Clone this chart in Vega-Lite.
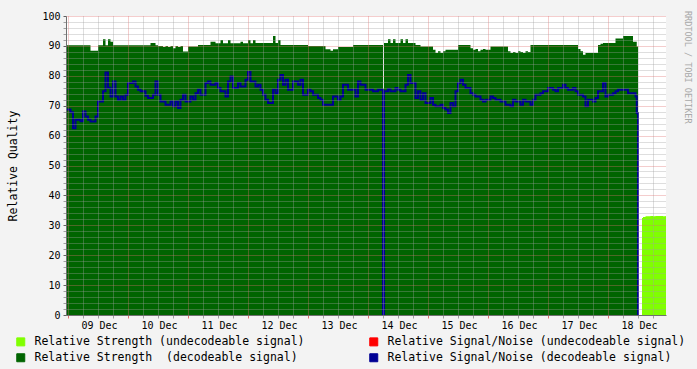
{
"$schema": "https://vega.github.io/schema/vega-lite/v6.json",
"width": 600, "height": 299,
"autosize": "none",
"padding": {"left": 66, "top": 16, "right": 31, "bottom": 54},
"background": "#f3f3f3",
"title": {"text": "RRDTOOL / TOBI OETIKER", "orient": "right", "anchor": "start", "fontSize": 8.5, "font": "DejaVu Sans Mono", "fontWeight": "normal", "color": "#a8a8a8", "offset": -3},
"config": {"view": {"stroke": null, "fill": "white"}, "font": "DejaVu Sans Mono"},
"data": {"values": [
{"t":"2008-12-08 23:36","s":90.2,"n":68.7},
{"t":"2008-12-09 00:00","s":90.2,"n":68.7},{"t":"2008-12-09 01:00","s":90.2,"n":67.8},{"t":"2008-12-09 02:00","s":90.2,"n":62.5},{"t":"2008-12-09 03:00","s":90.2,"n":65.3},{"t":"2008-12-09 04:00","s":90.2,"n":65.3},{"t":"2008-12-09 05:00","s":90.2,"n":64.8},{"t":"2008-12-09 06:00","s":90.2,"n":68.1},{"t":"2008-12-09 07:00","s":90.2,"n":66.4},{"t":"2008-12-09 08:00","s":90.2,"n":65.3},{"t":"2008-12-09 09:00","s":88.4,"n":64.7},{"t":"2008-12-09 10:00","s":88.4,"n":64.7},{"t":"2008-12-09 11:00","s":88.4,"n":66.4},{"t":"2008-12-09 12:00","s":90.2,"n":71.4},{"t":"2008-12-09 13:00","s":90.2,"n":71.4},{"t":"2008-12-09 14:00","s":92.2,"n":74.8},{"t":"2008-12-09 15:00","s":90.2,"n":81.1},{"t":"2008-12-09 16:00","s":92.2,"n":76},{"t":"2008-12-09 17:00","s":91.4,"n":73.1},{"t":"2008-12-09 18:00","s":90.2,"n":78.1},{"t":"2008-12-09 19:00","s":90.2,"n":73.1},{"t":"2008-12-09 20:00","s":90.2,"n":72},{"t":"2008-12-09 21:00","s":90.2,"n":73.1},{"t":"2008-12-09 22:00","s":90.2,"n":72},{"t":"2008-12-09 23:00","s":90.2,"n":73.7},
{"t":"2008-12-10 00:00","s":90.2,"n":77.6},{"t":"2008-12-10 01:00","s":90.2,"n":77.6},{"t":"2008-12-10 02:00","s":90.2,"n":78.1},{"t":"2008-12-10 03:00","s":90.2,"n":76.4},{"t":"2008-12-10 04:00","s":90.2,"n":75.3},{"t":"2008-12-10 05:00","s":90.2,"n":74.8},{"t":"2008-12-10 06:00","s":90.2,"n":74.8},{"t":"2008-12-10 07:00","s":90.2,"n":73.3},{"t":"2008-12-10 08:00","s":90.2,"n":72.6},{"t":"2008-12-10 09:00","s":91,"n":72.6},{"t":"2008-12-10 10:00","s":91,"n":73.7},{"t":"2008-12-10 11:00","s":90.2,"n":78.1},{"t":"2008-12-10 12:00","s":90,"n":73.7},{"t":"2008-12-10 13:00","s":90,"n":71.4},{"t":"2008-12-10 14:00","s":89.6,"n":71.4},{"t":"2008-12-10 15:00","s":90,"n":70.3},{"t":"2008-12-10 16:00","s":89.6,"n":70.3},{"t":"2008-12-10 17:00","s":90,"n":71.4},{"t":"2008-12-10 18:00","s":89.2,"n":69.8},{"t":"2008-12-10 19:00","s":90,"n":71.4},{"t":"2008-12-10 20:00","s":89.6,"n":69.2},{"t":"2008-12-10 21:00","s":90,"n":72},{"t":"2008-12-10 22:00","s":88.1,"n":73.7},{"t":"2008-12-10 23:00","s":88.1,"n":71.4},
{"t":"2008-12-11 00:00","s":89.8,"n":71.4},{"t":"2008-12-11 01:00","s":89.8,"n":73.1},{"t":"2008-12-11 02:00","s":89.8,"n":72},{"t":"2008-12-11 03:00","s":89.8,"n":74.2},{"t":"2008-12-11 04:00","s":90.3,"n":75.3},{"t":"2008-12-11 05:00","s":90.3,"n":73.7},{"t":"2008-12-11 06:00","s":90.3,"n":73.7},{"t":"2008-12-11 07:00","s":90.3,"n":77.6},{"t":"2008-12-11 08:00","s":90.3,"n":78.1},{"t":"2008-12-11 09:00","s":91.4,"n":77},{"t":"2008-12-11 10:00","s":91.4,"n":77},{"t":"2008-12-11 11:00","s":90.9,"n":77.6},{"t":"2008-12-11 12:00","s":90.9,"n":75.9},{"t":"2008-12-11 13:00","s":92,"n":74.8},{"t":"2008-12-11 14:00","s":90.9,"n":74.8},{"t":"2008-12-11 15:00","s":90.9,"n":73.1},{"t":"2008-12-11 16:00","s":92,"n":78.1},{"t":"2008-12-11 17:00","s":90.9,"n":79.8},{"t":"2008-12-11 18:00","s":90.9,"n":75.9},{"t":"2008-12-11 19:00","s":90.9,"n":75.9},{"t":"2008-12-11 20:00","s":90.9,"n":77.6},{"t":"2008-12-11 21:00","s":91.4,"n":76.4},{"t":"2008-12-11 22:00","s":90.9,"n":76.4},{"t":"2008-12-11 23:00","s":90.9,"n":78.7},
{"t":"2008-12-12 00:00","s":92,"n":81.3},{"t":"2008-12-12 01:00","s":90.9,"n":78.1},{"t":"2008-12-12 02:00","s":92,"n":78.1},{"t":"2008-12-12 03:00","s":91,"n":76.4},{"t":"2008-12-12 04:00","s":91,"n":77},{"t":"2008-12-12 05:00","s":91,"n":75.3},{"t":"2008-12-12 06:00","s":91,"n":73.7},{"t":"2008-12-12 07:00","s":91,"n":72},{"t":"2008-12-12 08:00","s":91,"n":70.9},{"t":"2008-12-12 09:00","s":91,"n":70.9},{"t":"2008-12-12 10:00","s":93.3,"n":75.3},{"t":"2008-12-12 11:00","s":91,"n":74.2},{"t":"2008-12-12 12:00","s":92,"n":78.7},{"t":"2008-12-12 13:00","s":90.3,"n":80.3},{"t":"2008-12-12 14:00","s":90.3,"n":77},{"t":"2008-12-12 15:00","s":90.3,"n":78.7},{"t":"2008-12-12 16:00","s":90.3,"n":75.3},{"t":"2008-12-12 17:00","s":90.3,"n":75.3},{"t":"2008-12-12 18:00","s":90.3,"n":78.1},{"t":"2008-12-12 19:00","s":90.3,"n":78.1},{"t":"2008-12-12 20:00","s":90.3,"n":77},{"t":"2008-12-12 21:00","s":90.3,"n":78.7},{"t":"2008-12-12 22:00","s":90.3,"n":73.7},{"t":"2008-12-12 23:00","s":90.3,"n":73.7},
{"t":"2008-12-13 00:00","s":90,"n":75.3},{"t":"2008-12-13 01:00","s":90,"n":74.8},{"t":"2008-12-13 02:00","s":90,"n":73.7},{"t":"2008-12-13 03:00","s":90,"n":73.7},{"t":"2008-12-13 04:00","s":90,"n":72.6},{"t":"2008-12-13 05:00","s":90,"n":72},{"t":"2008-12-13 06:00","s":90,"n":70.3},{"t":"2008-12-13 07:00","s":88.9,"n":70.3},{"t":"2008-12-13 08:00","s":88.9,"n":70.3},{"t":"2008-12-13 09:00","s":88.4,"n":70.3},{"t":"2008-12-13 10:00","s":88.9,"n":73.1},{"t":"2008-12-13 11:00","s":88.9,"n":73.1},{"t":"2008-12-13 12:00","s":89.6,"n":72},{"t":"2008-12-13 13:00","s":89.6,"n":73.1},{"t":"2008-12-13 14:00","s":89.6,"n":77},{"t":"2008-12-13 15:00","s":89.6,"n":77},{"t":"2008-12-13 16:00","s":89.6,"n":75.3},{"t":"2008-12-13 17:00","s":89.6,"n":75.3},{"t":"2008-12-13 18:00","s":90.3,"n":75.3},{"t":"2008-12-13 19:00","s":90.3,"n":73.1},{"t":"2008-12-13 20:00","s":90.3,"n":78.1},{"t":"2008-12-13 21:00","s":90.3,"n":77},{"t":"2008-12-13 22:00","s":90.3,"n":77},{"t":"2008-12-13 23:00","s":90.3,"n":75.3},
{"t":"2008-12-14 00:00","s":90.3,"n":75.3},{"t":"2008-12-14 01:00","s":90.3,"n":75.3},{"t":"2008-12-14 02:00","s":90.3,"n":74.8},{"t":"2008-12-14 03:00","s":90.3,"n":74.8},{"t":"2008-12-14 04:00","s":90.3,"n":75.3},{"t":"2008-12-14 05:00","s":90.3,"n":75.3},{"t":"2008-12-14 06:00","s":0,"n":0},{"t":"2008-12-14 06:24","s":91,"n":74.8},{"t":"2008-12-14 07:00","s":91,"n":74.8},{"t":"2008-12-14 08:00","s":92.2,"n":75.5},{"t":"2008-12-14 09:00","s":91,"n":74.8},{"t":"2008-12-14 10:00","s":92.2,"n":74.8},{"t":"2008-12-14 11:00","s":91,"n":75.9},{"t":"2008-12-14 12:00","s":91,"n":75.3},{"t":"2008-12-14 13:00","s":92.2,"n":74.8},{"t":"2008-12-14 14:00","s":91,"n":74.8},{"t":"2008-12-14 15:00","s":92.2,"n":77},{"t":"2008-12-14 16:00","s":91,"n":80.3},{"t":"2008-12-14 17:00","s":91,"n":77.6},{"t":"2008-12-14 18:00","s":91,"n":77.6},{"t":"2008-12-14 19:00","s":90.3,"n":72.6},{"t":"2008-12-14 20:00","s":90.3,"n":74.8},{"t":"2008-12-14 21:00","s":89.8,"n":72},{"t":"2008-12-14 22:00","s":89.8,"n":74.2},{"t":"2008-12-14 23:00","s":89.8,"n":70.9},
{"t":"2008-12-15 00:00","s":89.8,"n":70.9},{"t":"2008-12-15 01:00","s":89.8,"n":72.6},{"t":"2008-12-15 02:00","s":88.7,"n":70.3},{"t":"2008-12-15 03:00","s":87.6,"n":69.8},{"t":"2008-12-15 04:00","s":88.2,"n":69.8},{"t":"2008-12-15 05:00","s":87.6,"n":70.3},{"t":"2008-12-15 06:00","s":88.2,"n":69.2},{"t":"2008-12-15 07:00","s":88.7,"n":68.7},{"t":"2008-12-15 08:00","s":88.7,"n":67.6},{"t":"2008-12-15 09:00","s":88.7,"n":70.9},{"t":"2008-12-15 10:00","s":88.7,"n":69.8},{"t":"2008-12-15 11:00","s":88.7,"n":74.8},{"t":"2008-12-15 12:00","s":90.3,"n":77.6},{"t":"2008-12-15 13:00","s":90.3,"n":78.7},{"t":"2008-12-15 14:00","s":90.3,"n":77},{"t":"2008-12-15 15:00","s":90.3,"n":75.9},{"t":"2008-12-15 16:00","s":90.3,"n":75.9},{"t":"2008-12-15 17:00","s":89.2,"n":74.2},{"t":"2008-12-15 18:00","s":88.7,"n":73.7},{"t":"2008-12-15 19:00","s":89,"n":73.1},{"t":"2008-12-15 20:00","s":88.2,"n":73.1},{"t":"2008-12-15 21:00","s":88.7,"n":72},{"t":"2008-12-15 22:00","s":89,"n":71.4},{"t":"2008-12-15 23:00","s":88.7,"n":72},
{"t":"2008-12-16 00:00","s":88.7,"n":72},{"t":"2008-12-16 01:00","s":89.8,"n":73.1},{"t":"2008-12-16 02:00","s":89.8,"n":72.6},{"t":"2008-12-16 03:00","s":89.8,"n":72},{"t":"2008-12-16 04:00","s":89.8,"n":72},{"t":"2008-12-16 05:00","s":89.8,"n":71.4},{"t":"2008-12-16 06:00","s":89.8,"n":71.4},{"t":"2008-12-16 07:00","s":89.8,"n":70.3},{"t":"2008-12-16 08:00","s":88.2,"n":70.3},{"t":"2008-12-16 09:00","s":87.6,"n":69.8},{"t":"2008-12-16 10:00","s":88,"n":72},{"t":"2008-12-16 11:00","s":87.6,"n":71.4},{"t":"2008-12-16 12:00","s":88.2,"n":71.4},{"t":"2008-12-16 13:00","s":88,"n":70.3},{"t":"2008-12-16 14:00","s":87.6,"n":72},{"t":"2008-12-16 15:00","s":88.2,"n":71.4},{"t":"2008-12-16 16:00","s":88,"n":71.4},{"t":"2008-12-16 17:00","s":90.3,"n":70.3},{"t":"2008-12-16 18:00","s":90.3,"n":72},{"t":"2008-12-16 19:00","s":90.3,"n":73.7},{"t":"2008-12-16 20:00","s":90.3,"n":73.7},{"t":"2008-12-16 21:00","s":90.3,"n":74.2},{"t":"2008-12-16 22:00","s":90.3,"n":74.8},{"t":"2008-12-16 23:00","s":90.3,"n":74.8},
{"t":"2008-12-17 00:00","s":90.3,"n":75.9},{"t":"2008-12-17 01:00","s":90.3,"n":75.9},{"t":"2008-12-17 02:00","s":90.3,"n":75.3},{"t":"2008-12-17 03:00","s":90.3,"n":74.8},{"t":"2008-12-17 04:00","s":90.3,"n":75.9},{"t":"2008-12-17 05:00","s":90.3,"n":75.9},{"t":"2008-12-17 06:00","s":90.3,"n":77},{"t":"2008-12-17 07:00","s":90.3,"n":75.9},{"t":"2008-12-17 08:00","s":90.3,"n":75.3},{"t":"2008-12-17 09:00","s":90.3,"n":75.3},{"t":"2008-12-17 10:00","s":90.3,"n":75.9},{"t":"2008-12-17 11:00","s":90.3,"n":74.8},{"t":"2008-12-17 12:00","s":89,"n":73.7},{"t":"2008-12-17 13:00","s":88.2,"n":73.7},{"t":"2008-12-17 14:00","s":87,"n":73.1},{"t":"2008-12-17 15:00","s":87.6,"n":69.8},{"t":"2008-12-17 16:00","s":87.6,"n":72},{"t":"2008-12-17 17:00","s":87.6,"n":72},{"t":"2008-12-17 18:00","s":87.6,"n":71.4},{"t":"2008-12-17 19:00","s":87.6,"n":72.6},{"t":"2008-12-17 20:00","s":90.3,"n":74.8},{"t":"2008-12-17 21:00","s":90.7,"n":74.8},{"t":"2008-12-17 22:00","s":91,"n":77.6},{"t":"2008-12-17 23:00","s":91,"n":73.1},
{"t":"2008-12-18 00:00","s":91,"n":73.7},{"t":"2008-12-18 01:00","s":91,"n":73.7},{"t":"2008-12-18 02:00","s":91,"n":74.2},{"t":"2008-12-18 03:00","s":92.5,"n":74.8},{"t":"2008-12-18 04:00","s":92.5,"n":75.3},{"t":"2008-12-18 05:00","s":92.5,"n":75.3},{"t":"2008-12-18 06:00","s":93.3,"n":75.3},{"t":"2008-12-18 07:00","s":93.3,"n":75.3},{"t":"2008-12-18 08:00","s":93.3,"n":74.2},{"t":"2008-12-18 09:00","s":93.3,"n":74.2},{"t":"2008-12-18 10:00","s":91.4,"n":74.2},{"t":"2008-12-18 11:00","s":91.4,"n":73.1},{"t":"2008-12-18 11:30","s":89.8,"n":67.6},{"t":"2008-12-18 12:00","s":89.8,"n":0},
{"t":"2008-12-18 13:36","u":32.4},{"t":"2008-12-18 14:00","u":32.8},{"t":"2008-12-18 15:00","u":33},{"t":"2008-12-18 16:00","u":33},{"t":"2008-12-18 17:00","u":33.1},{"t":"2008-12-18 18:00","u":33},{"t":"2008-12-18 19:00","u":33.1},{"t":"2008-12-18 20:00","u":33.1},{"t":"2008-12-18 21:00","u":33.1},{"t":"2008-12-18 22:00","u":33},{"t":"2008-12-18 23:00","u":33.1},{"t":"2008-12-18 23:12","u":33.1}
]},
"encoding": {
  "x": {"field": "t", "type": "temporal",
    "scale": {"domain": [{"year": 2008, "month": 12, "date": 8, "hours": 23, "minutes": 12}, {"year": 2008, "month": 12, "date": 18, "hours": 23, "minutes": 12}]},
    "axis": {"title": null,
      "values": [{"year": 2008, "month": 12, "date": 9, "hours": 0}, {"year": 2008, "month": 12, "date": 9, "hours": 6}, {"year": 2008, "month": 12, "date": 9, "hours": 12}, {"year": 2008, "month": 12, "date": 9, "hours": 18},
                 {"year": 2008, "month": 12, "date": 10, "hours": 0}, {"year": 2008, "month": 12, "date": 10, "hours": 6}, {"year": 2008, "month": 12, "date": 10, "hours": 12}, {"year": 2008, "month": 12, "date": 10, "hours": 18},
                 {"year": 2008, "month": 12, "date": 11, "hours": 0}, {"year": 2008, "month": 12, "date": 11, "hours": 6}, {"year": 2008, "month": 12, "date": 11, "hours": 12}, {"year": 2008, "month": 12, "date": 11, "hours": 18},
                 {"year": 2008, "month": 12, "date": 12, "hours": 0}, {"year": 2008, "month": 12, "date": 12, "hours": 6}, {"year": 2008, "month": 12, "date": 12, "hours": 12}, {"year": 2008, "month": 12, "date": 12, "hours": 18},
                 {"year": 2008, "month": 12, "date": 13, "hours": 0}, {"year": 2008, "month": 12, "date": 13, "hours": 6}, {"year": 2008, "month": 12, "date": 13, "hours": 12}, {"year": 2008, "month": 12, "date": 13, "hours": 18},
                 {"year": 2008, "month": 12, "date": 14, "hours": 0}, {"year": 2008, "month": 12, "date": 14, "hours": 6}, {"year": 2008, "month": 12, "date": 14, "hours": 12}, {"year": 2008, "month": 12, "date": 14, "hours": 18},
                 {"year": 2008, "month": 12, "date": 15, "hours": 0}, {"year": 2008, "month": 12, "date": 15, "hours": 6}, {"year": 2008, "month": 12, "date": 15, "hours": 12}, {"year": 2008, "month": 12, "date": 15, "hours": 18},
                 {"year": 2008, "month": 12, "date": 16, "hours": 0}, {"year": 2008, "month": 12, "date": 16, "hours": 6}, {"year": 2008, "month": 12, "date": 16, "hours": 12}, {"year": 2008, "month": 12, "date": 16, "hours": 18},
                 {"year": 2008, "month": 12, "date": 17, "hours": 0}, {"year": 2008, "month": 12, "date": 17, "hours": 6}, {"year": 2008, "month": 12, "date": 17, "hours": 12}, {"year": 2008, "month": 12, "date": 17, "hours": 18},
                 {"year": 2008, "month": 12, "date": 18, "hours": 0}, {"year": 2008, "month": 12, "date": 18, "hours": 6}, {"year": 2008, "month": 12, "date": 18, "hours": 12}, {"year": 2008, "month": 12, "date": 18, "hours": 18}],
      "labelExpr": "hours(datum.value) === 0 ? timeFormat(datum.value, '%d %b') : ''",
      "labelOffset": 31, "labelOverlap": false, "labelBound": false, "labelFlush": false,
      "labelFont": "DejaVu Sans Mono", "labelFontSize": 10, "labelColor": "black", "labelPadding": 2,
      "gridDash": [1, 1],
      "gridColor": {"condition": {"test": "hours(datum.value) === 0", "value": "#e07070"}, "value": "#a0a0a0"},
      "gridOpacity": 0.7,
      "tickColor": {"condition": {"test": "hours(datum.value) === 0", "value": "#e07070"}, "value": "#a0a0a0"},
      "tickSize": 3, "domainColor": "#707070", "zindex": 1}},
  "y": {"type": "quantitative",
    "scale": {"domain": [0, 100], "nice": false},
    "axis": {"title": "Relative Quality", "titleFont": "DejaVu Sans Mono", "titleFontSize": 11.5, "titleFontWeight": "normal", "titleColor": "black", "titlePadding": 23,
      "values": [0,2,4,6,8,10,12,14,16,18,20,22,24,26,28,30,32,34,36,38,40,42,44,46,48,50,52,54,56,58,60,62,64,66,68,70,72,74,76,78,80,82,84,86,88,90,92,94,96,98,100],
      "labelExpr": "datum.value % 10 === 0 ? datum.label : ''",
      "labelFont": "DejaVu Sans Mono", "labelFontSize": 10, "labelColor": "black", "labelPadding": 3, "labelOverlap": false,
      "gridDash": [1, 1],
      "gridColor": {"condition": {"test": "datum.value % 10 === 0", "value": "#e07070"}, "value": "#a0a0a0"},
      "gridOpacity": 0.7,
      "tickColor": {"condition": {"test": "datum.value % 10 === 0", "value": "#606060"}, "value": "#a0a0a0"},
      "tickSize": 3,
      "domainColor": "#707070", "zindex": 1}}
},
"layer": [
  {"mark": {"type": "area", "interpolate": "step-after"},
   "encoding": {"y": {"field": "s", "type": "quantitative", "stack": null},
     "color": {"datum": "Relative Strength \u00a0(decodeable signal)", "type": "nominal",
       "scale": {"domain": ["Relative Strength (undecodeable signal)", "Relative Strength \u00a0(decodeable signal)", "Relative Signal/Noise (undecodeable signal)", "Relative Signal/Noise (decodeable signal)"],
                 "range": ["#80ff00", "#006400", "#ff0000", "#000094"]},
       "legend": {"orient": "none", "legendX": -51, "legendY": 320, "columns": 2, "columnPadding": 62, "rowPadding": 3, "title": null,
         "symbolType": "square", "symbolSize": 64, "symbolStrokeColor": "black", "symbolStrokeWidth": 1, "symbolOpacity": 1,
         "labelFont": "DejaVu Sans Mono", "labelFontSize": 11.5, "labelColor": "black", "labelOffset": 8, "labelLimit": 0,
         "encode": {"symbols": {"update": {"stroke": {"value": "black"}, "strokeWidth": {"value": 1}}}}}}}},
  {"mark": {"type": "area", "interpolate": "step-after"},
   "encoding": {"y": {"field": "u", "type": "quantitative", "stack": null},
     "color": {"datum": "Relative Strength (undecodeable signal)", "type": "nominal"}}},
  {"mark": {"type": "line", "interpolate": "step-after", "strokeWidth": 2},
   "encoding": {"y": {"field": "n", "type": "quantitative"},
     "color": {"datum": "Relative Signal/Noise (decodeable signal)", "type": "nominal"}}}
]
}
